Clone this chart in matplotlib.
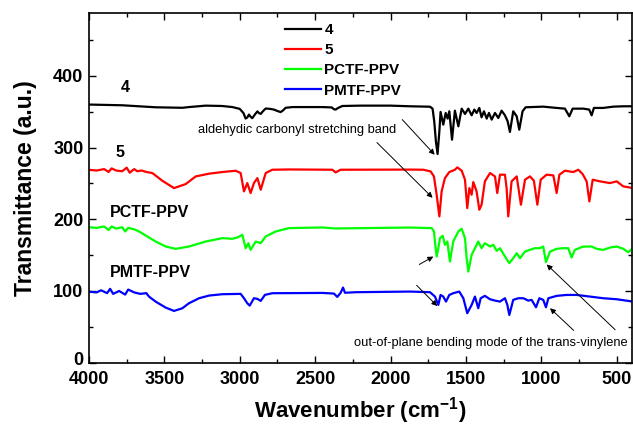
import matplotlib
matplotlib.use("Agg")
import matplotlib.pyplot as plt
from matplotlib.ticker import MultipleLocator
from matplotlib.transforms import ScaledTranslation

plt.rcParams['font.family'] = ['Liberation Sans', 'DejaVu Sans']
plt.rcParams['mathtext.fontset'] = 'custom'
plt.rcParams['mathtext.rm'] = 'Liberation Sans'
plt.rcParams['mathtext.bf'] = 'Liberation Sans:bold'

# ---------------- data ----------------
wn_4 = [4000, 3779, 3670, 3558, 3381, 3337, 3226, 3116, 3049, 3000, 2975, 2961, 2950, 2939,
        2928, 2917, 2900, 2883, 2872, 2861, 2845, 2828, 2800, 2773, 2750, 2729, 2712, 2696,
        2650, 2550, 2450, 2390, 2375, 2364, 2350, 2320, 2200, 2000, 1871, 1738, 1721, 1710,
        1699, 1688, 1676, 1668, 1650, 1634, 1621, 1610, 1592, 1573, 1550, 1528, 1506, 1484,
        1462, 1444, 1429, 1411, 1396, 1380, 1362, 1347, 1329, 1307, 1285, 1263, 1241, 1223,
        1208, 1186, 1163, 1146, 1124, 1104, 987, 898, 843, 814, 792, 721, 682, 666, 651, 589,
        522, 456, 392]
t_4 = [360, 359, 357.6, 356.2, 355.5, 356.5, 358.5, 358, 356.5, 354, 348, 340.5, 342, 346,
       343, 341, 346, 350.5, 348, 347, 351, 354.5, 354, 353, 351, 349.5, 352, 355.5,
       356.5, 356.5, 356.5, 356, 353.5, 353, 355, 358, 358.5, 358.5, 357.6, 357, 354.3, 336.6,
       308.7, 291, 322.7, 349.7, 332, 348.3, 340.4, 350.6, 311, 351.5, 329.7, 354.3, 346.9, 354.3,
       345, 353, 348.3, 355.3, 342.2, 350.6, 340.4, 348.3, 339, 348.3, 341.3, 351.5, 345, 336.6,
       321.8, 350.6, 343.6, 325, 350.6, 356.2, 357.1, 355.3, 354.3, 343.6, 354.3, 354.3, 353, 345, 355.3, 355.3,
       357.1, 357.6, 357.6]

wn_5 = [4000, 3950, 3900, 3870, 3850, 3820, 3780, 3750, 3730, 3700, 3680, 3650, 3620, 3580,
        3514, 3436, 3359, 3292, 3204, 3116, 3027, 2994, 2972, 2950, 2928, 2906, 2883, 2861,
        2828, 2784, 2673, 2386, 2364, 2331, 1871, 1783, 1734, 1712, 1694, 1676, 1661, 1639,
        1610, 1573, 1557, 1528, 1506, 1491, 1477, 1462, 1451, 1429, 1411, 1396, 1374, 1340,
        1307, 1292, 1274, 1241, 1230, 1219, 1197, 1163, 1135, 1108, 1075, 1049, 1026, 1004,
        965, 920, 898, 880, 843, 788, 754, 726, 699, 681, 659, 611, 544, 500, 456, 392]
t_5 = [269, 268, 270, 266, 271, 268, 267, 272, 265, 270, 267, 268, 266, 264.5,
       253.8, 243.5, 249.1, 259.8, 263.6, 265.9, 267.7, 264.5, 238.9, 250.5, 236.6, 250.5, 257.5, 241.2,
       264.5, 269.1, 269.5, 269.1, 265.4, 269.1, 269.3, 269.1, 266.8, 259.8, 234.2, 204, 238.9, 257.5,
       265.9, 269.1, 272.4, 267.8, 255.2, 215.6, 243.5, 234.2, 251.9, 238.9, 213.3, 220.3, 252.9, 264.5,
       259.8, 236.6, 262.2, 262.2, 243.5, 204, 252.9, 259.8, 220.3, 255.2, 259.8, 253.8, 220.3, 255.2,
       262.2, 261.2, 236.6, 262.2, 267.8, 265.9, 269.1, 263.1, 252.9, 224.9, 255.2, 252.9, 250.5, 252.9, 245.9, 243.5]

wn_pctf = [4000, 3950, 3900, 3870, 3850, 3820, 3780, 3760, 3740, 3700, 3668, 3558, 3491, 3425,
           3337, 3226, 3116, 3049, 3016, 2983, 2961, 2943, 2928, 2894, 2861, 2828, 2762, 2673,
           2452, 2364, 1871, 1727, 1712, 1703, 1694, 1683, 1672, 1654, 1639, 1623, 1606, 1584,
           1550, 1528, 1506, 1495, 1484, 1462, 1440, 1418, 1396, 1374, 1340, 1318, 1296, 1274,
           1241, 1212, 1186, 1163, 1141, 1108, 1075, 1042, 1009, 987, 969, 942, 898, 854, 821,
           799, 777, 721, 666, 633, 589, 544, 500, 456, 423, 392]
t_pctf = [189, 188, 190, 185, 190, 187, 189, 183, 188, 186, 183, 169, 162, 158.8,
          162, 169, 173.7, 172.8, 174.6, 178.3, 159.7, 166.7, 157.4, 169, 166.7, 176, 183, 187.7,
          188.6, 187.2, 188.5, 187.7, 183, 164.4, 148.1, 159.7, 173.7, 177, 164.4, 169, 141.1, 169,
          183, 186.7, 173.7, 145.7, 127.1, 150.4, 159.7, 169, 159.7, 166.7, 162, 164.4, 156, 159.7,
          148.1, 138.8, 145.7, 152.7, 145.7, 155, 157.4, 159.7, 159.7, 162, 140.2, 155, 158.8, 159.7, 159.7,
          146.7, 157.4, 162, 162, 158.8, 157.4, 160.6, 162, 158.8, 154.1, 159.7]

wn_pmtf = [4000, 3950, 3920, 3880, 3860, 3840, 3800, 3760, 3740, 3700, 3660, 3620, 3602, 3558,
           3491, 3436, 3381, 3337, 3270, 3204, 3116, 2994, 2972, 2950, 2934, 2906, 2883, 2861,
           2833, 2784, 2452, 2375, 2353, 2331, 2315, 2302, 2231, 1871, 1738, 1705, 1683, 1668,
           1650, 1632, 1610, 1584, 1544, 1517, 1491, 1462, 1440, 1418, 1402, 1374, 1340, 1307,
           1274, 1241, 1225, 1212, 1186, 1152, 1119, 1086, 1064, 1035, 1013, 987, 969, 953, 898,
           832, 766, 677, 589, 500, 392]
t_pmtf = [99, 98, 101, 97, 103, 96, 100, 95, 102, 98, 96, 97, 92.2, 85.2,
          76.8, 72.2, 75.9, 82.9, 89.9, 93.6, 95.5, 96, 89.9, 82.9, 79.6, 89.9, 89, 86.2,
          94.6, 96.9, 97.3, 96.4, 91.7, 97.5, 104.8, 97.5, 98.3, 99.2, 98.3, 92.2, 80.6, 94.5,
          92.2, 85.2, 94.5, 96.9, 99.2, 89.9, 69, 80.6, 92.2, 75.9, 89.9, 93.2, 88.5, 86.6,
          85.2, 89.9, 80.6, 66.6, 87.6, 89.9, 89.9, 86.6, 87.6, 77.3, 89.9, 87.6, 77.3, 89.9, 93.2,
          94.5, 94.5, 92.2, 89.9, 88.5, 85.2]

series_labels = ['4', '5', 'PCTF-PPV', 'PMTF-PPV']
series_colors = ['black', 'red', '#00ff00', 'blue']

# ---------------- figure ----------------
fig = plt.figure(figsize=(6.33, 4.26), dpi=100)
ax = fig.add_axes([0.1406, 0.1486, 0.998 - 0.1406, 0.970 - 0.1486])

for wn, t, lab, col in zip([wn_4, wn_5, wn_pctf, wn_pmtf], [t_4, t_5, t_pctf, t_pmtf],
                           series_labels, series_colors):
    ax.plot(wn, t, color=col, lw=1.6, label=lab)

ax.set_xlim(4000, 400)
ax.set_ylim(0, 488)
ax.xaxis.set_major_locator(MultipleLocator(500))
ax.xaxis.set_minor_locator(MultipleLocator(250))
ax.yaxis.set_major_locator(MultipleLocator(100))
ax.yaxis.set_minor_locator(MultipleLocator(50))
ax.set_yticks([0, 100, 200, 300, 400])
ax.tick_params(which='both', direction='in', top=True, right=True, width=1.0)
ax.tick_params(which='major', length=5, labelsize=13)
ax.tick_params(which='minor', length=3)
ax.tick_params(axis='x', which='major', pad=6)
ax.tick_params(axis='y', which='major', pad=4)
for lbl in ax.get_xticklabels() + ax.get_yticklabels():
    lbl.set_fontweight('bold')
for sp in ax.spines.values():
    sp.set_linewidth(1.2)

# lift the "0" label slightly so it clears "4000", as in the reference
zero_lbl = ax.yaxis.get_major_ticks()[0].label1
zero_lbl.set_transform(zero_lbl.get_transform() + ScaledTranslation(0, 3 / 72, fig.dpi_scale_trans))

ax.set_xlabel('Wavenumber (cm$^{\\mathbf{-1}}$)', fontsize=16, fontweight='bold', labelpad=5)
ax.set_ylabel('Transmittance (a.u.)', fontsize=16.5, fontweight='bold', labelpad=12)

leg = ax.legend(loc='upper left', bbox_to_anchor=(0.338, 1.005), frameon=False,
                prop={'weight': 'bold', 'size': 11}, handlelength=2.4, handletextpad=0.2,
                labelspacing=0.4, borderpad=0.3)

# trace labels
ax.text(3761, 384, '4', fontsize=11.5, fontweight='bold', ha='center', va='center')
ax.text(3794, 293, '5', fontsize=11.5, fontweight='bold', ha='center', va='center')
ax.text(3861, 210, 'PCTF-PPV', fontsize=11.5, fontweight='bold', ha='left', va='center')
ax.text(3861, 126, 'PMTF-PPV', fontsize=11.5, fontweight='bold', ha='left', va='center')

# annotations
ax.text(3277, 324, 'aldehydic carbonyl stretching band', fontsize=9.3, ha='left', va='center')
ax.text(425, 27, 'out-of-plane bending mode of the trans-vinylene', fontsize=9.3,
        ha='right', va='center')

arrow_kw = dict(arrowstyle='-|>', lw=0.7, color='black', mutation_scale=8, shrinkA=0, shrinkB=0)
arrows = [((1922, 339), (1707, 290)),
          ((2090, 307), (1721, 230)),
          ((1809, 137), (1716, 148)),
          ((1827, 108), (1690, 79)),
          ((510, 46), (964, 137)),
          ((785, 45), (942, 76))]
for (x0, y0), (x1, y1) in arrows:
    ax.annotate('', xy=(x1, y1), xytext=(x0, y0), arrowprops=arrow_kw)

fig.savefig('out.png', dpi=100)
